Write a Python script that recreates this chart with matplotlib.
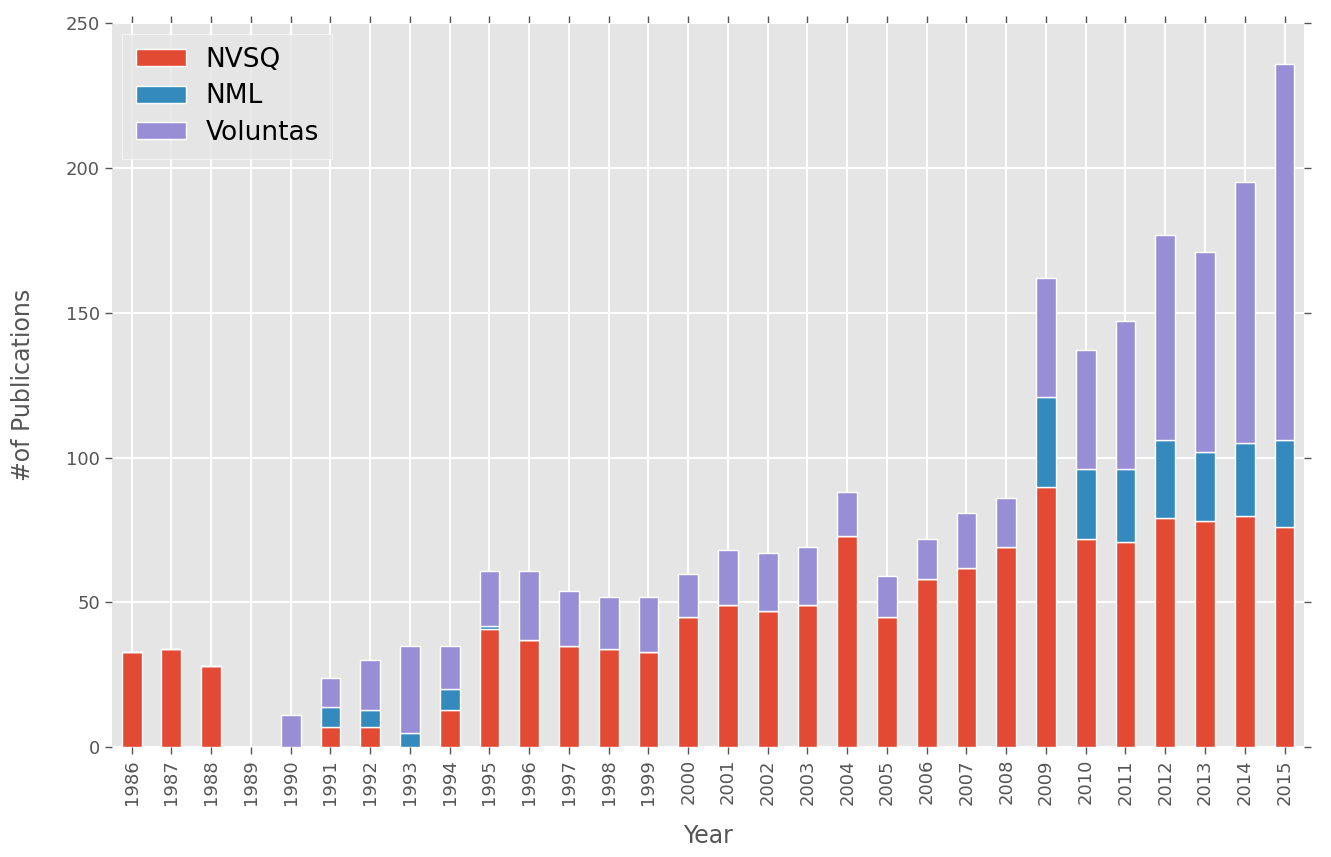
import numpy as np
import matplotlib
matplotlib.use('Agg')
from matplotlib import pyplot as plt

plt.style.use('ggplot')

years = list(range(1986, 2016))
nvsq = [33, 34, 28, 0, 0, 7, 7, 0, 13, 41, 37, 35, 34, 33, 45, 49, 47, 49, 73, 45,
        58, 62, 69, 90, 72, 71, 79, 78, 80, 76]
nml = [0, 0, 0, 0, 0, 7, 6, 5, 7, 1, 0, 0, 0, 0, 0, 0, 0, 0, 0, 0,
       0, 0, 0, 31, 24, 25, 27, 24, 25, 30]
voluntas = [0, 0, 0, 0, 11, 10, 17, 30, 15, 19, 24, 19, 18, 19, 15, 19, 20, 20, 15, 14,
            14, 19, 17, 41, 41, 51, 71, 69, 90, 130]

fig = plt.figure(figsize=(13.31, 8.57), dpi=100)
ax = fig.add_axes([0.084, 0.128, 0.896, 0.845])

x = np.arange(len(years))
w = 0.5
nvsq = np.array(nvsq)
nml = np.array(nml)
voluntas = np.array(voluntas)
ax.bar(x, nvsq, w, color='#E24A33', edgecolor='white', linewidth=1, label='NVSQ')
ax.bar(x, nml, w, bottom=nvsq, color='#348ABD', edgecolor='white', linewidth=1, label='NML')
ax.bar(x, voluntas, w, bottom=nvsq + nml, color='#988ED5', edgecolor='white', linewidth=1,
       label='Voluntas')

ax.set_xlim(-0.5, len(years) - 0.5)
ax.set_ylim(0, 250)
ax.set_xticks(x)
ax.set_xticklabels([str(y) for y in years], rotation=90)
ax.set_yticks([0, 50, 100, 150, 200, 250])
ax.tick_params(axis='both', which='both', direction='out', top=True, right=True,
               labelsize=13, colors='#555555', length=5, width=1)
ax.grid(True, color='white', linewidth=1.5)
ax.set_axisbelow(True)
ax.set_xlabel('Year', fontsize=17, color='#555555', labelpad=14)
ax.set_ylabel('#of Publications', fontsize=17, color='#555555', labelpad=22)
for s in ax.spines.values():
    s.set_visible(False)

leg = ax.legend(loc='upper left', fontsize=19, frameon=True, fancybox=False,
                handlelength=1.9, handleheight=0.6, handletextpad=0.75, borderpad=0.5,
                labelspacing=0.4, borderaxespad=0.4)
leg.get_frame().set_facecolor('#E5E5E5')
leg.get_frame().set_edgecolor('white')
for t in leg.get_texts():
    t.set_color('black')

fig.savefig('out.png', dpi=100, facecolor='white')
